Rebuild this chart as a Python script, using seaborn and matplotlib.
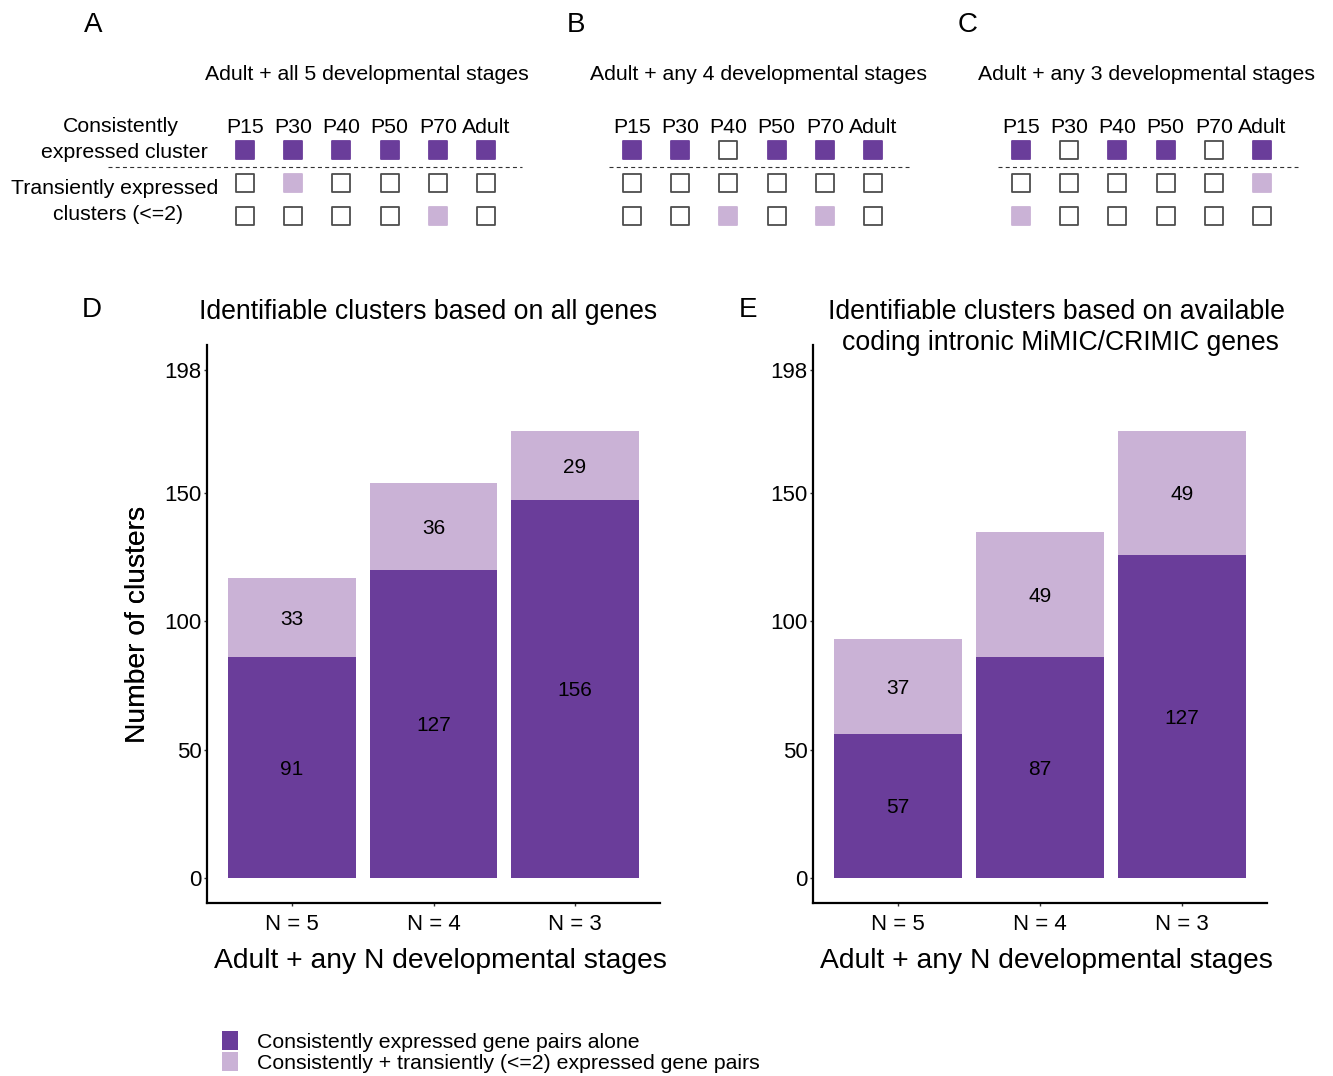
import numpy as np
import pandas as pd
import matplotlib
matplotlib.use("Agg")
import matplotlib.pyplot as plt
import seaborn as sns
from matplotlib.patches import Patch

# ---- data ----
stages = ["P15", "P30", "P40", "P50", "P70", "Adult"]
# 0 = not expressed, 1 = consistently expressed, 2 = transiently expressed
grid_a = [[1, 1, 1, 1, 1, 1], [0, 2, 0, 0, 0, 0], [0, 0, 0, 0, 2, 0]]
grid_b = [[1, 1, 0, 1, 1, 1], [0, 0, 0, 0, 0, 0], [0, 0, 2, 0, 2, 0]]
grid_c = [[1, 0, 1, 1, 0, 1], [0, 0, 0, 0, 0, 2], [2, 0, 0, 0, 0, 0]]
grid_titles = ["Adult + all 5 developmental stages",
               "Adult + any 4 developmental stages",
               "Adult + any 3 developmental stages"]

n_labels = ["N = 5", "N = 4", "N = 3"]
# bar heights as drawn in the figure, and the counts printed on them
d_alone = [86, 120, 147.5]
d_total = [117, 154, 174.5]
d_alone_txt = ["91", "127", "156"]
d_trans_txt = ["33", "36", "29"]
e_alone = [56, 86, 126]
e_total = [93, 135, 174.5]
e_alone_txt = ["57", "87", "127"]
e_trans_txt = ["37", "49", "49"]
yticks = [0, 50, 100, 150, 198]

legend_labels = ["Consistently expressed gene pairs alone",
                 "Consistently + transiently (<=2) expressed gene pairs"]

DARK = "#6A3D9A"
LIGHT = "#CAB2D6"
EMPTY_EDGE = "#4d4d4d"

sns.set_theme(style="white")
plt.rcParams["font.family"] = ["Liberation Sans", "DejaVu Sans"]
plt.rcParams["text.color"] = "black"
plt.rcParams["axes.labelcolor"] = "black"

W, H = 1333, 1076
fig = plt.figure(figsize=(W / 100, H / 100), dpi=100)


def px_axes(left, top, right, bottom):
    return fig.add_axes([left / W, 1 - bottom / H, (right - left) / W, (bottom - top) / H])


def ftext(x, y, s, size, **kw):
    # small downward nudge: va="center" sits a bit high for cap-height text
    fig.text(x / W, 1 - (y + 2) / H, s, fontsize=size, ha=kw.pop("ha", "center"),
             va=kw.pop("va", "center"), color="black", **kw)


# ---- panels A-C: stage grids ----
COL_STEP, ROW_STEP = 48.2, 33.0
ROW0 = 150


def draw_grid(col0, grid, dash_from):
    ax = px_axes(col0 - COL_STEP / 2, ROW0 - ROW_STEP / 2,
                 col0 + 5.5 * COL_STEP, ROW0 + 2.5 * ROW_STEP)
    g = np.array(grid)
    rows, cols = np.indices(g.shape)
    face = np.array(["white", DARK, LIGHT])[g.ravel()]
    edge = np.array([EMPTY_EDGE, DARK, LIGHT])[g.ravel()]
    ax.scatter(cols.ravel(), rows.ravel(), marker="s", s=168, c=face,
               edgecolors=edge, linewidths=1.3, clip_on=False)
    ax.plot([dash_from, 5.75], [0.5, 0.5], ls=(0, (3.6, 2.9)), lw=0.8,
            color="#333333", clip_on=False)
    for i, st in enumerate(stages):
        ax.text(i, -0.53, st, ha="center", va="baseline", fontsize=15.3)
    ax.set_xlim(-0.5, 5.5)
    ax.set_ylim(2.5, -0.5)
    ax.axis("off")


draw_grid(245, grid_a, -2.84)
draw_grid(632, grid_b, -0.48)
draw_grid(1021, grid_c, -0.48)

for x, letter in zip([93, 576, 968], ["A", "B", "C"]):
    ftext(x, 23, letter, 20)
for x, t in zip([367, 758, 1147], grid_titles):
    ftext(x, 73, t, 15.3)

ftext(121, 125, "Consistently", 15.3)
ftext(124, 151, "expressed cluster", 15.3)
ftext(115, 186, "Transiently expressed", 15.3)
ftext(118, 212, "clusters (<=2)", 15.3)


# ---- panels D, E: stacked bars ----
def draw_bars(left, right, alone, total, alone_txt, trans_txt):
    ax = px_axes(left, 345, right, 903)
    df = pd.DataFrame({"n": n_labels, "alone": alone, "total": total})
    sns.barplot(data=df, x="n", y="total", color=LIGHT, saturation=1,
                width=0.9, linewidth=0, ax=ax)
    sns.barplot(data=df, x="n", y="alone", color=DARK, saturation=1,
                width=0.9, linewidth=0, ax=ax)
    for i in range(len(n_labels)):
        ax.text(i, alone[i] / 2, alone_txt[i], ha="center", va="center_baseline",
                fontsize=15, color="black")
        ax.text(i, (alone[i] + total[i]) / 2, trans_txt[i], ha="center",
                va="center_baseline", fontsize=15, color="black")
    ax.set_xlim(-0.6, 2.6)
    ax.set_ylim(-9.9, 207.9)
    ax.set_yticks(yticks)
    ax.set_yticklabels([str(v) for v in yticks])
    sns.despine(ax=ax)
    for side in ["left", "bottom"]:
        ax.spines[side].set_color("black")
        ax.spines[side].set_linewidth(1.6)
    ax.tick_params(axis="both", length=2.2, width=1, color="#333333",
                   labelsize=16, labelcolor="black", direction="out")
    ax.tick_params(axis="y", pad=1.5, left=True)
    ax.tick_params(axis="x", pad=5.7, bottom=True)
    ax.set_xlabel("Adult + any N developmental stages", fontsize=20.3)
    ax.set_ylabel("Number of clusters", fontsize=20.3)
    ax.xaxis.set_label_coords(0.515, -0.0806)
    ax.yaxis.set_label_coords((151 - left) / (right - left), 0.5)
    ax.grid(False)
    return ax


draw_bars(207, 660, d_alone, d_total, d_alone_txt, d_trans_txt)
draw_bars(813, 1267, e_alone, e_total, e_alone_txt, e_trans_txt)

ftext(92, 308, "D", 20)
ftext(748, 308, "E", 20)
ftext(428, 310, "Identifiable clusters based on all genes", 19.2)
ftext(1056, 310, "Identifiable clusters based on available", 19.2)
ftext(1060, 341, "coding intronic MiMIC/CRIMIC genes", 19.2)

handles = [Patch(facecolor=DARK, edgecolor="none"), Patch(facecolor=LIGHT, edgecolor="none")]
fig.legend(handles, legend_labels, loc="upper left",
           bbox_to_anchor=(222 / W, 1 - 1031 / H), frameon=False, fontsize=15.3,
           handlelength=0.76, handleheight=1.0, handletextpad=0.9,
           labelspacing=0, borderpad=0, borderaxespad=0)

fig.savefig("out.png", dpi=100)
